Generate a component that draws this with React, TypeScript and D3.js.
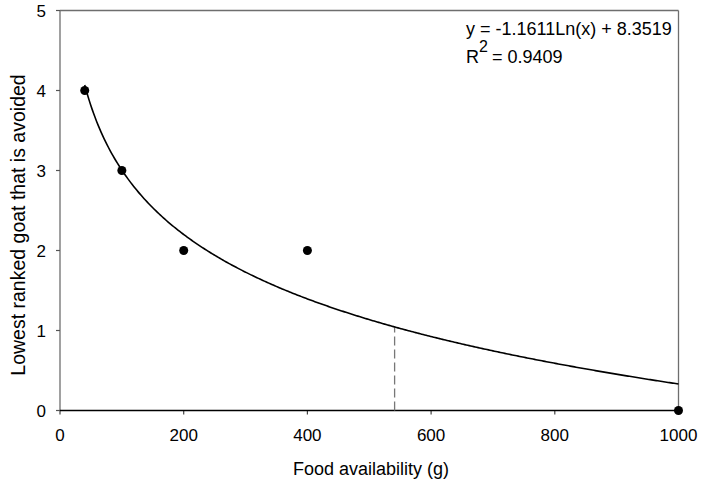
import React from "react";
import * as d3 from "d3";

const foodX = [40, 100, 200, 400, 1000];
const rankY = [4, 3, 2, 2, 0];
const xTicks = [0, 200, 400, 600, 800, 1000];
const yTicks = [0, 1, 2, 3, 4, 5];
const fitA = -1.1611;
const fitB = 8.3519;
const fitStart = 40;
const fitEnd = 1000;
const dashX = 541;
const eqText = "y = -1.1611Ln(x) + 8.3519";
const r2Text = "= 0.9409";

export default function App() {
  const W = 704, H = 487;
  const L = 60, R = 678.5, T = 10.5, B = 410.5;
  const x = d3.scaleLinear().domain([0, 1000]).range([L, R]);
  const y = d3.scaleLinear().domain([0, 5]).range([B, T]);
  const fit = (v: number) => fitA * Math.log(v) + fitB;
  const curvePts: [number, number][] = [];
  for (let i = 0; i <= 400; i++) {
    const v = fitStart + (fitEnd - fitStart) * (i / 400);
    curvePts.push([v, fit(v)]);
  }
  const line = d3.line<[number, number]>().x(d => x(d[0])).y(d => y(d[1]));
  const font = "Arial, 'Liberation Sans', sans-serif";
  return (
    <svg width={W} height={H} style={{ position: "absolute", left: 0, top: 0, background: "#fff" }} fontFamily={font}>
      <rect x={0} y={0} width={W} height={H} fill="#fff" />
      {/* frame */}
      <line x1={L} y1={T} x2={R} y2={T} stroke="#6e6e6e" strokeWidth={1.3} />
      <line x1={R} y1={T} x2={R} y2={B} stroke="#6e6e6e" strokeWidth={1.3} />
      <line x1={L} y1={T} x2={L} y2={B} stroke="#6e6e6e" strokeWidth={1.3} />
      {/* y ticks */}
      {yTicks.map(t => (
        <g key={"y" + t}>
          <line x1={L - 4} x2={L} y1={y(t)} y2={y(t)} stroke="#555" strokeWidth={1.2} />
          <text x={L - 14} y={y(t)} dy="0.36em" textAnchor="end" fontSize={17} fill="#000">{t}</text>
        </g>
      ))}
      {/* x ticks */}
      {xTicks.map(t => (
        <g key={"x" + t}>
          <line x1={x(t)} x2={x(t)} y1={B} y2={B + 4} stroke="#444" strokeWidth={1.2} />
          <text x={x(t)} y={441} textAnchor="middle" fontSize={17} fill="#000">{t}</text>
        </g>
      ))}
      <line x1={L} y1={B} x2={R} y2={B} stroke="#000" strokeWidth={1.3} />
      {/* dashed line */}
      <line x1={x(dashX)} x2={x(dashX)} y1={B} y2={y(fit(dashX))} stroke="#777" strokeWidth={1.3} strokeDasharray="9,4" />
      {/* fit curve */}
      <path d={line(curvePts) || ""} fill="none" stroke="#000" strokeWidth={1.6} />
      {/* points */}
      {foodX.map((v, i) => (
        <circle key={i} cx={x(v)} cy={y(rankY[i])} r={4.5} fill="#000" />
      ))}
      {/* equation */}
      <text x={466} y={35} fontSize={18} fill="#000">{eqText}</text>
      <text x={466} y={63} fontSize={18} fill="#000">R<tspan dy={-11} fontSize={16}>2</tspan><tspan dy={11} dx={4}>{r2Text}</tspan></text>
      {/* axis labels */}
      <text x={371} y={475} textAnchor="middle" fontSize={18} fill="#000">Food availability (g)</text>
      <text transform={`translate(25,225) rotate(-90)`} textAnchor="middle" fontSize={19.5} fill="#000">Lowest ranked goat that is avoided</text>
    </svg>
  );
}
